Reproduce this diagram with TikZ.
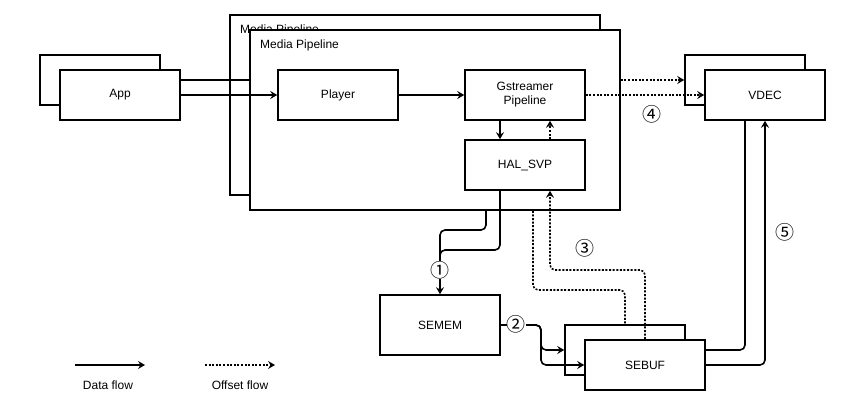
\documentclass[tikz,border=0pt]{standalone}
\usepackage{fontspec}
\setmainfont{Liberation Sans}
\newfontfamily\circfont{Noto Sans CJK SC}
\usetikzlibrary{arrows.meta}
\begin{document}
\begin{tikzpicture}[x=1pt,y=-1pt,
  box/.style={draw, line width=1.6pt, fill=white, minimum width=120pt, minimum height=50pt,
    inner sep=0pt, font=\fontsize{12}{14}\selectfont, align=center},
  lbl/.style={font=\fontsize{12}{14}\selectfont, inner sep=0pt, anchor=west},
  flow/.style={line width=1.6pt, rounded corners=5pt},
  tip/.style={-{Stealth[length=7pt,width=8pt,inset=2.5pt]}},
  data/.style={flow, tip},
  offs/.style={flow, dash pattern=on 2pt off 1.6pt},
  offa/.style={offs, tip},
  circ/.style={font=\circfont\fontsize{19}{19}\selectfont, fill=white, inner sep=0pt},
  txt/.style={font=\fontsize{12}{14}\selectfont, inner sep=0pt}
]
\useasboundingbox (0,0) rectangle (850,415);

% App
\node[box] (appb) at (100,80) {};
\node[box] (app) at (120,95) {App};

% Media pipeline
\node[box, minimum width=370pt, minimum height=180pt] (mpb) at (415,105) {};
\node[lbl] (mpbl) at (240,30) {Media Pipeline};
\node[box, minimum width=370pt, minimum height=180pt] (mpf) at (435,120) {};
\node[lbl] (mpfl) at (260,45) {Media Pipeline};

\node[box] (player) at (338,95) {Player};
\node[box] (gst) at (525,95) {Gstreamer\\Pipeline};
\node[box] (hal) at (525,165) {HAL\_SVP};

% VDEC
\node[box] (vdecb) at (745,80) {};
\node[box] (vdec) at (765,95) {VDEC};

% SEMEM, SEBUF
\node[box, minimum height=60pt] (semem) at (440,325) {SEMEM};
\node[box] (sebufb) at (625,350) {};
\node[box] (sebuf) at (645,365) {SEBUF};

% App connectors
\coordinate (appu) at ([yshift=15pt]app.east);
\draw[flow] (appu) -- (appu -| mpf.west);
\draw[data] (app.east) -- (player.west);
\draw[data] (player.east) -- (gst.west);

% Gstreamer -> VDEC
\draw[offa] (gst.east) -- (vdec.west);
\draw[offa] (mpf.east |- vdecb.west) -- (vdecb.west);

% Gstreamer <-> HAL
\draw[data] ([xshift=-25pt]gst.south) -- ([xshift=-25pt]hal.north);
\draw[offa] ([xshift=25pt]hal.north) -- ([xshift=25pt]gst.south);

% HAL -> SEMEM
\coordinate (hs) at ([xshift=-25pt]hal.south);
\coordinate (ms) at ([xshift=51pt]mpf.south);
\draw[flow] (ms) -- (ms |- 0,230) -- (semem.north |- 0,230) -- (semem.north |- 0,260);
\draw[data] (hs) -- (hs |- 0,250) -- (semem.north |- 0,250) -- (semem.north);
\node[circ] (c1) at (440,270) {①};

% offset flows SEBUF -> HAL
\coordinate (ms2) at ([xshift=98pt]mpf.south);
\draw[offs] (ms2) -- (ms2 |- 0,290) -- (sebufb.north |- 0,290) -- (sebufb.north);
\coordinate (ht) at ([xshift=25pt]hal.south);
\draw[offa] (sebuf.north) -- (sebuf.north |- 0,270) -- (ht |- 0,270) -- (ht);
\node[circ] (c3) at (585,248) {③};

% SEMEM -> SEBUF
\coordinate (sj) at (541,325);
\draw[data] (semem.east) -- (sj) -- (sj |- sebufb.west) -- (sebufb.west);
\draw[data] (semem.east) -- (sj) -- (sj |- sebuf.west) -- (sebuf.west);
\node[circ] (c2) at (516,324) {②};

% SEBUF -> VDEC
\draw[flow] ([yshift=15pt]sebuf.east) -| ([xshift=-20pt]vdec.south);
\draw[data] (sebuf.east) -| (vdec.south);
\node[circ] (c5) at (785,232) {⑤};
\node[circ] (c4) at (652,114) {④};

% legend
\coordinate (l1a) at (75,365);
\coordinate (l1b) at (145,365);
\draw[data] (l1a) -- (l1b);
\node[txt] (l1t) at (108,385) {Data flow};
\coordinate (l2a) at (205,365);
\coordinate (l2b) at (275,365);
\draw[offa] (l2a) -- (l2b);
\node[txt] (l2t) at (240,385) {Offset flow};
\end{tikzpicture}
\end{document}
